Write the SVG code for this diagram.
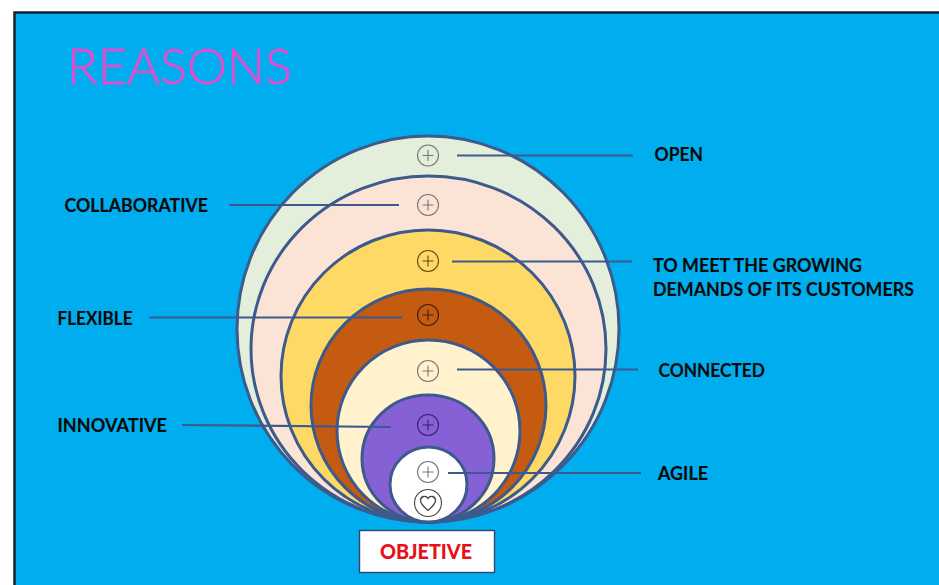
<svg xmlns="http://www.w3.org/2000/svg" width="939" height="585" viewBox="0 0 939 585">
<style>
.ring{stroke:#3d5a8c;stroke-width:3}
.conn{stroke:#3d5a8f;stroke-width:2.200;fill:none}
.lbl{font-family:Lato,"Liberation Sans",sans-serif;font-weight:700;font-size:18.800px;fill:#0a0a0a;stroke:#0a0a0a;stroke-width:.15}
.ico{fill:none;stroke-width:1.100}
</style>
<defs>
<g id="plus"><circle r="10.500" class="ico"/><path class="ico" d="M-5.500 0H5.500M0-5.500V5.500"/></g>
</defs>
<rect width="939" height="585" fill="#fff"/>
<rect x="14.500" y="12.500" width="930" height="580" fill="#00aeef" stroke="#16222f" stroke-width="2.500"/>
<text x="67" y="84" font-family="Lato,'Liberation Sans',sans-serif" font-weight="300" font-size="50" fill="#dc4fd2" stroke="#dc4fd2" stroke-width=".8" textLength="225" lengthAdjust="spacingAndGlyphs">REASONS</text>
<g id="ring-open"><ellipse class="ring" cx="428" cy="329" rx="191" ry="193" fill="#e3eedb"/><use href="#plus" x="428" y="155.500" stroke="#777"/></g>
<g id="ring-collaborative"><ellipse class="ring" cx="428.500" cy="349" rx="177.500" ry="173" fill="#fbe4d6"/><use href="#plus" x="428" y="205" stroke="#777"/></g>
<g id="ring-growing"><ellipse class="ring" cx="428" cy="376" rx="147" ry="146" fill="#ffd966"/><use href="#plus" x="428" y="261" stroke="#5a4a10"/></g>
<g id="ring-flexible"><ellipse class="ring" cx="428.500" cy="405.500" rx="117.500" ry="116.500" fill="#c55a11"/><use href="#plus" x="428" y="315" stroke="#3a2208"/></g>
<g id="ring-connected"><ellipse class="ring" cx="428.500" cy="431" rx="91.500" ry="91" fill="#fff2cc"/><use href="#plus" x="428" y="371" stroke="#777"/></g>
<g id="ring-innovative"><ellipse class="ring" cx="428" cy="458.500" rx="66" ry="63.500" fill="#8661d5"/><use href="#plus" x="428" y="425" stroke="#33206a"/></g>
<g id="ring-agile"><ellipse class="ring" cx="428.500" cy="484.500" rx="38.500" ry="37.500" fill="#fff"/><use href="#plus" x="428" y="472" stroke="#777"/></g>
<g id="heart" fill="none" stroke="#444" stroke-width="1.100"><circle cx="428" cy="503" r="13.500"/><path stroke-width="1.300" d="M428 510.500C424 507 420.500 504 420.500 500.500C420.500 496 426 495 428 498.500C430 495 435.500 496 435.500 500.500C435.500 504 432 507 428 510.500Z"/></g>
<g id="connectors">
<path class="conn" d="M457 155.500H633"/>
<path class="conn" d="M229 205H399"/>
<path class="conn" d="M452 261.500H632"/>
<path class="conn" d="M149 317.500H402"/>
<path class="conn" d="M457 369.500H638"/>
<path class="conn" d="M182 425L391 427"/>
<path class="conn" d="M448 473H641"/>
</g>
<g id="label-open"><text class="lbl" x="654.500" y="160.500" textLength="48.500" lengthAdjust="spacingAndGlyphs">OPEN</text></g>
<g id="label-collaborative"><text class="lbl" x="64.500" y="212" textLength="143.500" lengthAdjust="spacingAndGlyphs">COLLABORATIVE</text></g>
<g id="label-growing"><text class="lbl" x="653" y="271.500" textLength="209" lengthAdjust="spacingAndGlyphs">TO MEET THE GROWING</text><text class="lbl" x="653" y="296" textLength="261" lengthAdjust="spacingAndGlyphs">DEMANDS OF ITS CUSTOMERS</text></g>
<g id="label-flexible"><text class="lbl" x="57.500" y="324.500" textLength="75" lengthAdjust="spacingAndGlyphs">FLEXIBLE</text></g>
<g id="label-connected"><text class="lbl" x="658.500" y="376.500" textLength="106.500" lengthAdjust="spacingAndGlyphs">CONNECTED</text></g>
<g id="label-innovative"><text class="lbl" x="57.500" y="432" textLength="109.500" lengthAdjust="spacingAndGlyphs">INNOVATIVE</text></g>
<g id="label-agile"><text class="lbl" x="658" y="479.500" textLength="50" lengthAdjust="spacingAndGlyphs">AGILE</text></g>
<g id="objective"><rect x="359.500" y="530.500" width="135" height="42" fill="#fff" stroke="#2f4468" stroke-width="1.400"/><text x="426" y="559" text-anchor="middle" font-family="Lato,'Liberation Sans',sans-serif" font-weight="900" font-size="20.500" fill="#e8101a" textLength="92" lengthAdjust="spacingAndGlyphs">OBJETIVE</text></g>
</svg>
